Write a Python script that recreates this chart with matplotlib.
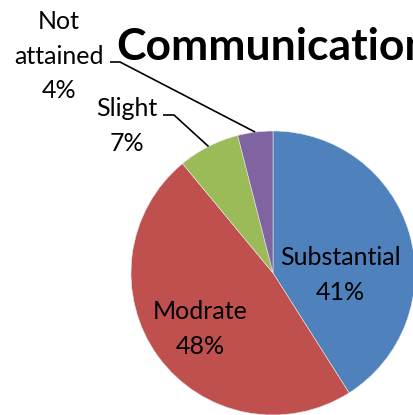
import numpy as np
import matplotlib.pyplot as plt

# pie data
labels = ["Substantial", "Modrate", "Slight", "Not\nattained"]
values = [41, 48, 7, 4]
colors = ["#4F81BD", "#C0504D", "#9BBB59", "#8064A2"]

W, H = 414, 415
fig = plt.figure(figsize=(W / 100, H / 100), dpi=100)
ax = fig.add_axes([0, 0, 1, 1])

cx, cy, R = 273, H - 273, 142
wedges, _ = ax.pie(values, colors=colors, startangle=90, counterclock=False,
                   radius=R, center=(cx, cy),
                   wedgeprops=dict(linewidth=0.4, edgecolor="#e8e8e8"))
ax.set_xlim(0, W)
ax.set_ylim(0, H)
ax.set_aspect("equal")
ax.axis("off")

font = "Lato"
fs = 18
ls = 1.6

def lbl(i):
    return "%s\n%d%%" % (labels[i], values[i])

# labels inside the pie
ax.text(340, H - 275, lbl(0), ha="center", va="center", fontsize=fs,
        family=font, linespacing=ls)
ax.text(200, H - 329, lbl(1), ha="center", va="center", fontsize=fs,
        family=font, linespacing=ls)
# outside labels
ax.text(127, H - 126, lbl(2), ha="center", va="center", fontsize=fs,
        family=font, linespacing=ls)
ax.text(59, H - 56, lbl(3), ha="center", va="center", fontsize=fs,
        family=font, linespacing=ls)

# leader lines from wedge midpoints
def mid_point(w):
    a = np.deg2rad((w.theta1 + w.theta2) / 2)
    return cx + R * np.cos(a), cy + R * np.sin(a)

px, py = mid_point(wedges[2])
ax.plot([163, 174, px], [H - 115, H - 115, py], color="black", lw=1.2,
        solid_capstyle="butt")
px, py = mid_point(wedges[3])
ax.plot([110, 120, px], [H - 62, H - 62, py], color="black", lw=1.2,
        solid_capstyle="butt")

ax.text(116, H - 60, "Communication", ha="left", va="baseline",
        fontsize=32, fontweight="bold", family=font)

fig.savefig("out.png", dpi=100)
